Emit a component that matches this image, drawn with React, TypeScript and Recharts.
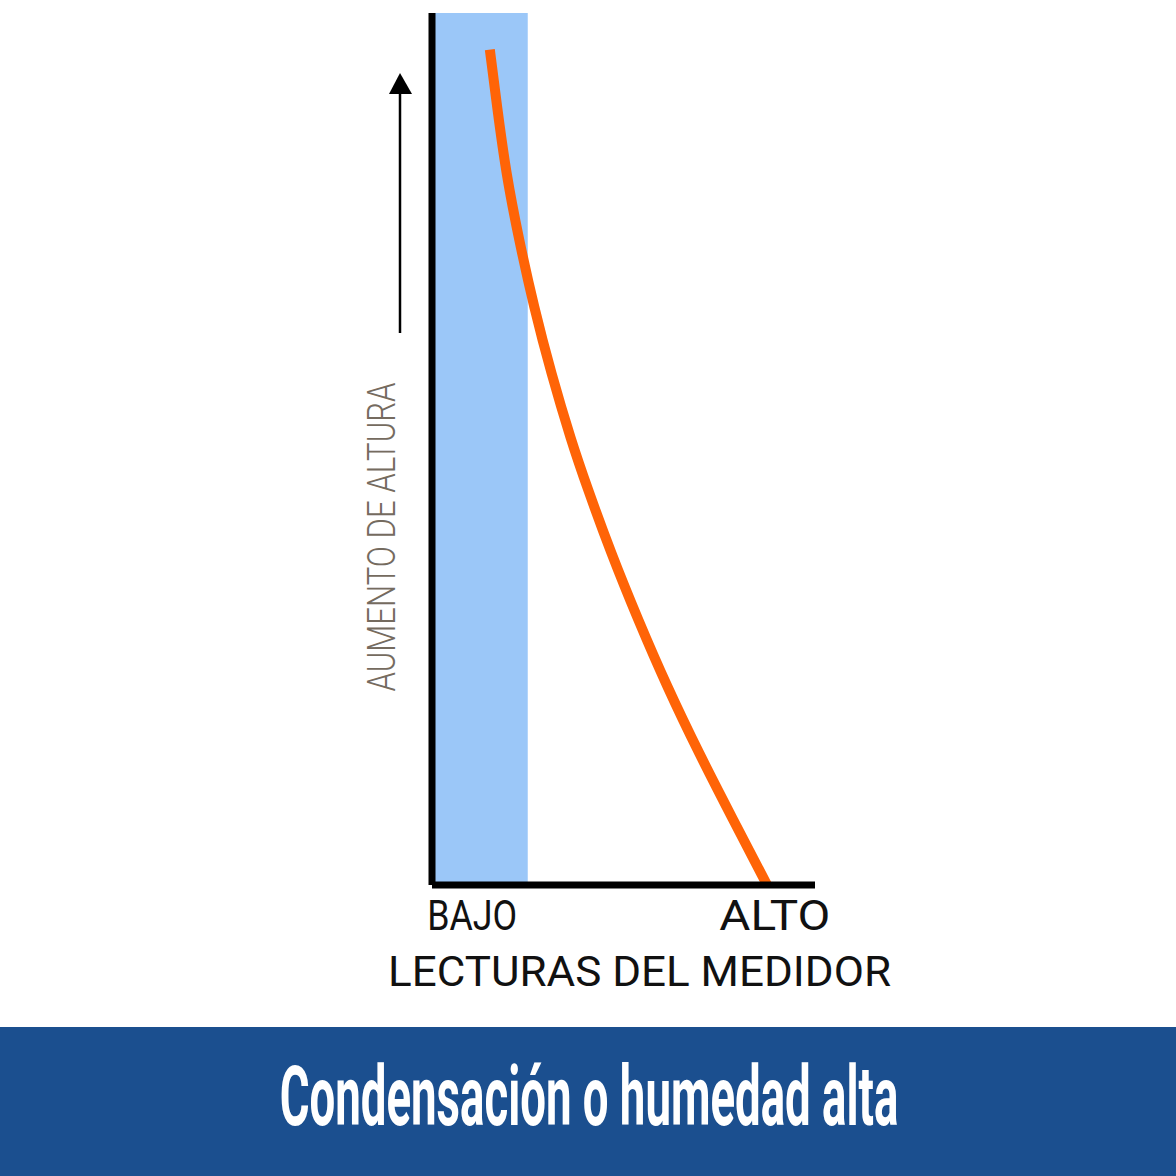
import React from "react";
import {
  LineChart,
  Line,
  XAxis,
  YAxis,
  ReferenceArea,
  Label,
} from "recharts";

// meter reading (0 = low, 100 = high) against height (0 = floor, 100 = top)
const readings = [15.1, 17.0, 19.3, 22.7, 26.6, 31.1, 36.3, 40.5, 46.7, 53.8, 61.4, 69.7, 78.6, 87.5];
const heights = [95.8, 89.2, 81.7, 74.0, 66.3, 58.7, 51.0, 45.6, 38.1, 30.4, 22.7, 15.1, 7.5, 0];

const xTicks = [10.5, 89.5];
const xTickLabels = ["BAJO", "ALTO"];
const lowBand = [0, 25];

const xTitle = "LECTURAS DEL MEDIDOR";
const yTitle = "AUMENTO DE ALTURA";
const banner = "Condensación o humedad alta";

const data = readings.map((r, i) => ({ reading: r, height: heights[i] }));

const tickWidths: Record<string, number> = { BAJO: 90, ALTO: 111 };

const XTick = (props: any) => {
  const i = xTicks.indexOf(props.payload.value);
  const label = xTickLabels[i] ?? "";
  return (
    <text
      x={props.x}
      y={930}
      textAnchor="middle"
      fill="#111"
      fontFamily="Roboto"
      fontSize={42}
      textLength={tickWidths[label]}
      lengthAdjust="spacingAndGlyphs"
    >
      {label}
    </text>
  );
};

const XTitle = (props: any) => {
  const vb = props.viewBox;
  return (
    <text
      x={vb.x + vb.width / 2 + 16}
      y={986}
      textAnchor="middle"
      fill="#111"
      fontFamily="Roboto"
      fontSize={43}
      textLength={503}
      lengthAdjust="spacingAndGlyphs"
    >
      {xTitle}
    </text>
  );
};

const YTitle = () => (
  <g>
    <line x1={400} y1={333} x2={400} y2={90} stroke="#000" strokeWidth={2.5} />
    <polygon points="389,94 412,94 400,73" fill="#000" />
    <text
      x={382}
      y={537}
      transform="rotate(-90 382 537)"
      textAnchor="middle"
      dominantBaseline="central"
      fill="#756b5f"
      fontFamily="Roboto"
      fontWeight={300}
      fontSize={39}
      textLength={309}
      lengthAdjust="spacingAndGlyphs"
    >
      {yTitle}
    </text>
  </g>
);

export default function App() {
  return (
    <div
      style={{
        position: "absolute",
        left: 0,
        top: 0,
        width: 1176,
        height: 1176,
        background: "#fff",
      }}
    >
      <LineChart
        width={1176}
        height={1027}
        data={data}
        margin={{ top: 13, right: 361, bottom: 0, left: 372 }}
      >
        <ReferenceArea
          x1={lowBand[0]}
          x2={lowBand[1]}
          y1={0}
          y2={100}
          fill="#9bc7f8"
          fillOpacity={1}
          stroke="none"
        />
        <XAxis
          type="number"
          dataKey="reading"
          domain={[0, 100]}
          ticks={xTicks}
          tick={<XTick />}
          tickLine={false}
          axisLine={{ stroke: "#000", strokeWidth: 7 }}
          height={142}
          allowDataOverflow
        >
          <Label content={<XTitle />} />
        </XAxis>
        <YAxis
          type="number"
          dataKey="height"
          domain={[0, 100]}
          tick={false}
          tickLine={false}
          axisLine={{ stroke: "#000", strokeWidth: 7 }}
          width={60}
          allowDataOverflow
        >
          <Label content={<YTitle />} />
        </YAxis>
        <Line
          type="basis"
          dataKey="height"
          stroke="#ff6407"
          strokeWidth={10}
          dot={false}
          isAnimationActive={false}
        />
      </LineChart>
      <div style={{ width: 1176, height: 149, background: "#1b4f8f" }}>
        <svg width={1176} height={149}>
          <text
            transform="translate(589 98) scale(0.55 1)"
            x={0}
            y={0}
            textAnchor="middle"
            fill="#fff"
            fontFamily="Roboto"
            fontWeight={700}
            fontSize={84}
            textLength={1125}
            lengthAdjust="spacingAndGlyphs"
          >
            {banner}
          </text>
        </svg>
      </div>
    </div>
  );
}
